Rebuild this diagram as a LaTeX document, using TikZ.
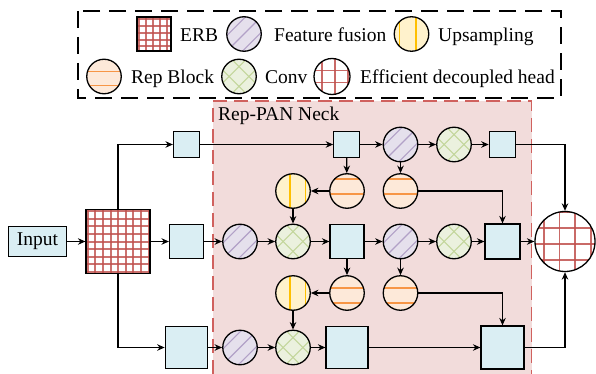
\documentclass[tikz,border=0pt]{standalone}
\usepackage{fontspec}
\setmainfont{Liberation Serif}
\usetikzlibrary{arrows.meta}

\definecolor{boxfill}{HTML}{DAEEF3}
\definecolor{fffill}{HTML}{E5E0EC}
\definecolor{ffline}{HTML}{B2A1C7}
\definecolor{upfill}{HTML}{FFF2CC}
\definecolor{upline}{HTML}{FFC000}
\definecolor{repfill}{HTML}{FDE9D9}
\definecolor{repline}{HTML}{F79646}
\definecolor{cvfill}{HTML}{EBF1DE}
\definecolor{cvline}{HTML}{C3D69B}
\definecolor{gridred}{HTML}{C0504D}
\definecolor{neckfill}{HTML}{F2DCDB}
\definecolor{neckedge}{HTML}{D0615E}

\tikzset{
  blk/.style={draw, line width=1.2pt, fill=boxfill, inner sep=0pt, minimum size=#1},
  disc/.style={circle, draw, line width=1.3pt, inner sep=0pt, minimum size=34.5pt},
  % feature fusion: lavender disc with diagonal stripes
  ffnode/.style={disc, fill=fffill, path picture={
      \begin{scope}[shift={(path picture bounding box.center)}]
        \foreach \d in {-11,0,11}
          \draw[ffline, line width=1.1pt] (-30+\d*0.7071, 30+\d*0.7071) -- (30+\d*0.7071, -30+\d*0.7071);
      \end{scope}}},
  % conv: green disc with cross hatching
  cvnode/.style={disc, fill=cvfill, path picture={
      \begin{scope}[shift={(path picture bounding box.center)}]
        \foreach \d in {-21,-7,7,21} {
          \draw[cvline, line width=1.1pt] (-30+\d*0.7071, 30+\d*0.7071) -- (30+\d*0.7071, -30+\d*0.7071);
          \draw[cvline, line width=1.1pt] (-30+\d*0.7071, -30-\d*0.7071) -- (30+\d*0.7071, 30-\d*0.7071);
        }
      \end{scope}}},
  % upsampling: yellow disc with two vertical stripes
  upnode/.style 2 args={disc, fill=upfill, path picture={
      \begin{scope}[shift={(path picture bounding box.center)}]
        \draw[upline, line width=1.8pt] (#1,-30) -- (#1,30);
        \draw[upline, line width=1.8pt] (#2,-30) -- (#2,30);
      \end{scope}}},
  % rep block: peach disc with two horizontal stripes
  repnode/.style 2 args={disc, fill=repfill, path picture={
      \begin{scope}[shift={(path picture bounding box.center)}]
        \draw[repline, line width=1.3pt] (-30,#1) -- (30,#1);
        \draw[repline, line width=1.3pt] (-30,#2) -- (30,#2);
      \end{scope}}},
  % ERB: square with a dense red grid
  erbsq/.style={draw, line width=1.2pt, fill=white, inner sep=0pt, minimum size=#1},
  erbgrid/.style={path picture={
      \begin{scope}[shift={(path picture bounding box.center)}]
        \foreach \o in {#1} {
          \draw[gridred, opacity=0.8, line width=2pt] (\o,-40) -- (\o,40);
          \draw[gridred, opacity=0.8, line width=2pt] (-40,\o) -- (40,\o);
        }
      \end{scope}}},
  % efficient decoupled head: white disc with a coarse red grid
  headnode/.style n args={3}{circle, draw, line width=1.3pt, fill=white, inner sep=0pt, minimum size=#1, path picture={
      \begin{scope}[shift={(path picture bounding box.center)}]
        \foreach \o in {#2}
          \draw[gridred, opacity=0.85, line width=1.8pt] (\o,-40) -- (\o,40);
        \foreach \o in {#3}
          \draw[gridred, opacity=0.85, line width=1.8pt] (-40,\o) -- (40,\o);
      \end{scope}}},
  lbl/.style={anchor=base west, inner sep=0pt},
  arr/.style={-{Stealth[length=7.5pt,width=6.5pt]}, line width=1.2pt},
  legendedge/.style={line width=1.3pt, dash pattern=on 17pt off 9pt},
  neckline/.style={neckedge, line width=1.3pt, dash pattern=on 14pt off 7pt}
}

\begin{document}
\begin{tikzpicture}[x=1pt, y=-1pt, font=\fontsize{19.5}{23}\selectfont]
\useasboundingbox (0,0) rectangle (596,374);

% ---------- legend ----------
\draw[legendedge] (78,11) rectangle (561,98);
\node[erbsq=34pt, erbgrid={-14.7,-7.9,-1.1,5.7,12.5}] (lerb) at (154,34) {};
\node[lbl] (lerbt) at (180,41.5) {ERB};
\node[ffnode] (lff) at (244,34) {};
\node[lbl] (lfft) at (274,41.5) {Feature fusion};
\node[upnode={-12}{4.5}] (lup) at (411.5,34) {};
\node[lbl] (lupt) at (438,41.5) {Upsampling};
\node[repnode={-5}{9}] (lrep) at (104,76.5) {};
\node[lbl] (lrept) at (131,83.5) {Rep Block};
\node[cvnode] (lcv) at (239,76.5) {};
\node[lbl] (lcvt) at (265,83.5) {Conv};
\node[headnode={36pt}{-10,3,16}{-18,-6,6,18}] (lhead) at (332,76.5) {};
\node[lbl] (lheadt) at (360,83.5) {Efficient decoupled head};

% ---------- Rep-PAN neck region ----------
\fill[neckfill] (213,101) rectangle (531.7,374);
\draw[neckline] (213,374) -- (213,101) -- (531.7,101) -- (531.7,374);
\node[lbl] (necklbl) at (218,121) {Rep-PAN Neck};

% ---------- backbone side ----------
\node[blk=0pt, minimum width=58.5pt, minimum height=30pt] (input) at (37.5,241.5) {Input};
\node[erbsq=64pt, erbgrid={-30.3,-22.7,-15.1,-7.5,0.1,7.7,15.3,22.9,30.5}] (erb) at (118,241.5) {};
\node[blk=26pt] (tb1) at (186.5,144.5) {};
\node[blk=34pt] (mb1) at (186.5,241.5) {};
\node[blk=42.5pt] (bb1) at (186.5,347.5) {};

% ---------- neck: top row ----------
\node[blk=25.5pt] (tb2) at (346.5,144.5) {};
\node[ffnode] (fft) at (400.5,144.5) {};
\node[cvnode] (cvt) at (454,144.5) {};
\node[blk=26.5pt] (tb3) at (502.5,144.5) {};

% ---------- neck: second row ----------
\node[upnode={-3}{12.5}] (up1) at (293,191) {};
\node[repnode={-12}{3}] (rep1a) at (347,191) {};
\node[repnode={-12}{3}] (rep2a) at (400.5,191) {};

% ---------- neck: middle row ----------
\node[ffnode] (ffm1) at (240,241.5) {};
\node[cvnode] (cvm1) at (293,241.5) {};
\node[blk=34pt] (mb2) at (347,241.5) {};
\node[ffnode] (ffm2) at (400.5,241.5) {};
\node[cvnode] (cvm2) at (454,241.5) {};
\node[blk=35pt] (mb3) at (502.5,241.5) {};

% ---------- neck: fourth row ----------
\node[upnode={-3}{12.5}] (up2) at (293,293) {};
\node[repnode={-5}{10}] (rep1b) at (347,293) {};
\node[repnode={-5}{10}] (rep2b) at (400.5,293) {};

% ---------- neck: bottom row ----------
\node[ffnode] (ffb) at (240,347.5) {};
\node[cvnode] (cvb) at (293,347.5) {};
\node[blk=42pt] (bb2) at (347,347.5) {};
\node[blk=43pt] (bb3) at (502.5,347.5) {};

% ---------- head ----------
\node[headnode={60pt}{-20.7,-5.5,10,25.7}{-29,-13.2,2.5,18.5}] (head) at (565,241.5) {};

% ---------- connectors ----------
\draw[arr] (input) -- (erb);
\draw[arr] (erb.north) |- (tb1.west);
\draw[arr] (erb) -- (mb1);
\draw[arr] (erb.south) |- (bb1.west);

\draw[arr] (tb1) -- (tb2);
\draw[arr] (tb2) -- (fft);
\draw[arr] (fft) -- (cvt);
\draw[arr] (cvt) -- (tb3);
\draw[arr] (tb3.east) -| (head.north);

\draw[arr] (tb2) -- (rep1a);
\draw[arr] (fft) -- (rep2a);
\draw[arr] (rep1a) -- (up1);
\draw[arr] (up1) -- (cvm1);
\draw[arr] (rep2a.east) -| (mb3.north);

\draw[arr] (mb1) -- (ffm1);
\draw[arr] (ffm1) -- (cvm1);
\draw[arr] (cvm1) -- (mb2);
\draw[arr] (mb2) -- (ffm2);
\draw[arr] (ffm2) -- (cvm2);
\draw[arr] (cvm2) -- (mb3);
\draw[arr] (mb3) -- (head);

\draw[arr] (mb2) -- (rep1b);
\draw[arr] (ffm2) -- (rep2b);
\draw[arr] (rep1b) -- (up2);
\draw[arr] (up2) -- (cvb);
\draw[arr] (rep2b.east) -| (bb3.north);

\draw[arr] (bb1) -- (ffb);
\draw[arr] (ffb) -- (cvb);
\draw[arr] (cvb) -- (bb2);
\draw[arr] (bb2) -- (bb3);
\draw[arr] (bb3.east) -| (head.south);
\end{tikzpicture}
\end{document}
